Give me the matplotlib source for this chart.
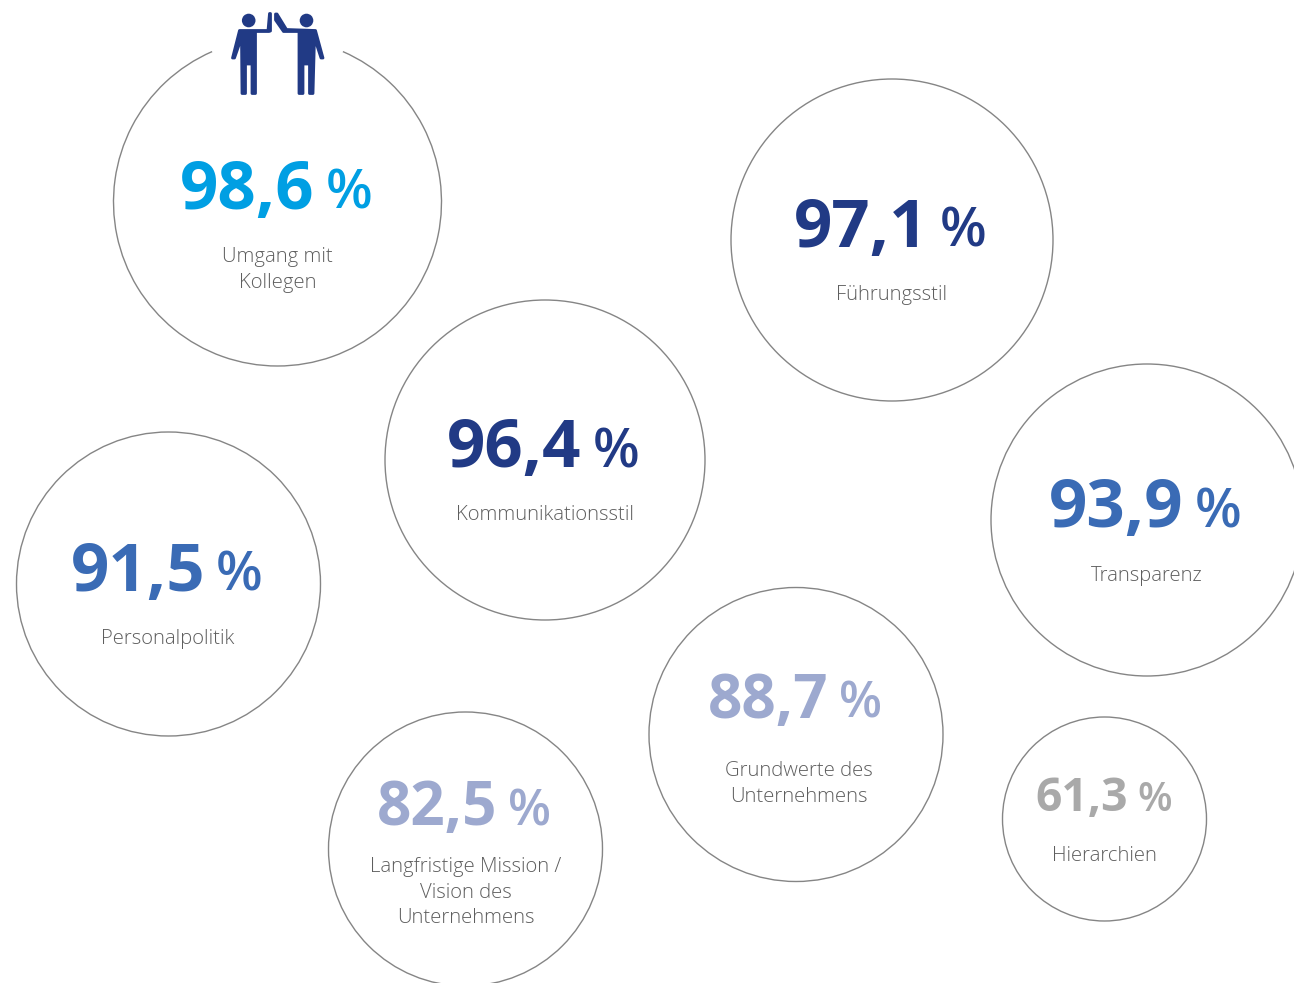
import matplotlib
matplotlib.use("Agg")
import matplotlib.pyplot as plt
from matplotlib.patches import Circle, Arc, Polygon

W, H = 1294, 983
plt.rcParams["font.family"] = ["Open Sans", "DejaVu Sans"]

# ── data ──────────────────────────────────────────────────────────────────
values = ["98,6", "97,1", "96,4", "93,9", "91,5", "88,7", "82,5", "61,3"]
labels = [["Umgang mit", "Kollegen"], ["Führungsstil"], ["Kommunikationsstil"], ["Transparenz"],
          ["Personalpolitik"], ["Grundwerte des", "Unternehmens"],
          ["Langfristige Mission /", "Vision des", "Unternehmens"], ["Hierarchien"]]
colors = ["#009FE3", "#213A85", "#213A85", "#3A6BB5",
          "#3A6BB5", "#9DA9CF", "#9DA9CF", "#A9A9A9"]
centers_x = [277.5, 892, 545, 1147, 168.5, 796, 465.5, 1104.5]
centers_y = [202, 240, 460, 520, 584, 734.5, 849, 819]
radii = [164, 161, 160, 156, 152, 147, 137, 102]
num_x = [180, 794, 447, 1049, 71, 708, 377, 1035]
pct_x = [326, 940, 593, 1195, 216, 839, 508, 1137]
base_y = [208.5, 246.5, 467.5, 527.5, 590.5, 718, 825, 811]
label_y = [257, 295, 515, 576, 639, 771, 867, 856]
label_x = [277.5, 892, 545, 1147, 168, 799, 465.5, 1104]
num_size = [48.3, 48.3, 48.3, 48.3, 48.3, 43.3, 43.3, 33.3]
pct_size = [39, 39, 39, 39, 39, 36, 36, 29]
LABEL_SIZE = 14.6
LINE_STEP = 25.7

LINE = "#858585"
TEXT = "#5E5E5E"
ICON = "#213A85"

fig = plt.figure(figsize=(W / 100, H / 100), dpi=100)
ax = fig.add_axes([0, 0, 1, 1])
ax.set_xlim(0, W)
ax.set_ylim(H, 0)
ax.axis("off")

# ── circles ───────────────────────────────────────────────────────────────
for i in range(len(values)):
    cx, cy, r = centers_x[i], centers_y[i], radii[i]
    if i == 0:
        # first circle is open at the top where the icon sits
        ax.add_patch(Arc((cx, cy), 2 * r, 2 * r, theta1=-66.5, theta2=246.5,
                         ec=LINE, lw=1.0))
    else:
        ax.add_patch(Circle((cx, cy), r, fc="none", ec=LINE, lw=1.0))

    ax.text(num_x[i], base_y[i], values[i], color=colors[i], fontsize=num_size[i],
            fontweight="bold", ha="left", va="baseline")
    ax.text(pct_x[i], base_y[i], "%", color=colors[i], fontsize=pct_size[i],
            fontweight="semibold", ha="left", va="baseline")
    for k, line in enumerate(labels[i]):
        ax.text(label_x[i], label_y[i] + k * LINE_STEP, line, color=TEXT, fontsize=LABEL_SIZE,
                fontweight="light", ha="center", va="center")

# ── high-five icon ────────────────────────────────────────────────────────
left_person = [(239.5, 30.5), (268, 30.5), (269.5, 13.5), (270.5, 13.5), (270.5, 31), (269, 31.5),
               (255.5, 31.5), (255.5, 93.5), (252, 93.5), (252, 64), (245.5, 64), (245.5, 93.5),
               (242, 93.5), (241.5, 38), (234.5, 58), (232.5, 58)]
right_person = [(315.5, 30.5), (286.5, 29.5), (277, 14), (275.5, 14), (275.5, 20), (283.5, 31.5),
                (299, 31.5), (299, 93.5), (303, 93.5), (303, 64), (309.5, 64), (309.5, 93.5),
                (313, 93.5), (314.5, 38), (321, 58), (323, 58)]

for head_x, shape in [(248.7, left_person), (306.5, right_person)]:
    ax.add_patch(Circle((head_x, 20.5), 6.8, fc=ICON, ec="none"))
    ax.add_patch(Polygon(shape, closed=True, fc=ICON, ec=ICON, lw=2.0, joinstyle="round"))

fig.savefig("out.png", dpi=100)
